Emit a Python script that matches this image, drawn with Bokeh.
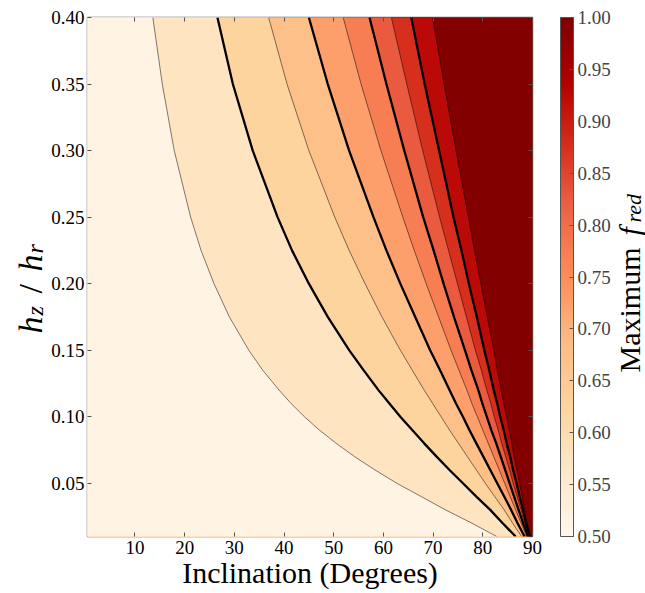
import numpy as np
from bokeh.plotting import figure
from bokeh.layouts import row
from bokeh.models import (ColumnDataSource, LinearColorMapper, ColorBar, FixedTicker,
                          NumeralTickFormatter, LinearAxis, Range1d)
from bokeh.transform import linear_cmap
from bokeh.core.properties import value
from bokeh.embed import file_html
from bokeh.resources import INLINE

# ---------------- data ----------------
x_ticks = [10, 20, 30, 40, 50, 60, 70, 80, 90]
y_ticks = [0.05, 0.10, 0.15, 0.20, 0.25, 0.30, 0.35, 0.40]
cbar_ticks = [0.50, 0.55, 0.60, 0.65, 0.70, 0.75, 0.80, 0.85, 0.90, 0.95, 1.00]

# h_z/h_r rows at which the contour crossings were read
h_rows = [0.40, 0.35, 0.30, 0.25, 0.225, 0.20, 0.175, 0.15, 0.135, 0.12, 0.11,
          0.10, 0.09, 0.08, 0.07, 0.06, 0.05, 0.04, 0.03, 0.02, 0.01]
levels = [0.55, 0.60, 0.65, 0.70, 0.75, 0.80, 0.85, 0.90, 0.95]
thick = [False, True, False, True, False, True, False, True, False]

# inclination (degrees) of each contour level at the rows above
incl_055 = [13.6, 15.5, 17.9, 21.2, 23.3, 25.9, 29.0, 32.9, 35.7, 39.0, 41.4,
            44.1, 47.1, 50.5, 54.2, 58.3, 62.7, 67.6, 72.5, 77.8, 82.8]
incl_060 = [26.6, 29.7, 33.7, 38.7, 41.6, 45.0, 48.8, 53.1, 56.0, 59.0, 61.2,
            63.4, 65.8, 68.2, 70.7, 73.3, 76.0, 78.7, 81.5, 84.0, 86.6]
incl_065 = [36.9, 40.6, 45.0, 50.2, 53.1, 56.3, 59.7, 63.4, 65.8, 68.2, 69.9,
            71.6, 73.3, 75.1, 76.9, 78.7, 80.5, 82.4, 84.3, 86.0, 87.8]
incl_070 = [45.0, 48.8, 53.1, 58.0, 60.6, 63.4, 66.4, 69.4, 71.4, 73.3, 74.6,
            76.0, 77.3, 78.7, 80.1, 81.5, 82.9, 84.3, 85.7, 87.0, 88.4]
incl_075 = [51.9, 55.5, 59.5, 63.9, 66.2, 68.6, 71.1, 73.6, 75.2, 76.8, 77.8,
            78.9, 80.0, 81.1, 82.2, 83.3, 84.4, 85.5, 86.6, 87.7, 88.8]
incl_080 = [57.2, 60.6, 64.2, 68.0, 70.1, 72.1, 74.2, 76.4, 77.7, 79.1, 79.9,
            80.8, 81.7, 82.7, 83.6, 84.5, 85.4, 86.3, 87.2, 88.1, 89.1]
incl_085 = [61.6, 64.7, 67.9, 71.3, 73.1, 74.9, 76.7, 78.5, 79.7, 80.8, 81.6,
            82.3, 83.1, 83.8, 84.6, 85.4, 86.1, 86.9, 87.7, 88.4, 89.3]
incl_090 = [65.6, 68.3, 71.2, 74.1, 75.7, 77.2, 78.8, 80.3, 81.3, 82.2, 82.9,
            83.5, 84.2, 84.8, 85.5, 86.1, 86.8, 87.4, 88.1, 88.7, 89.5]
incl_095 = [69.9, 72.2, 74.6, 77.1, 78.3, 79.6, 80.9, 82.2, 82.9, 83.7, 84.2,
            84.8, 85.3, 85.8, 86.3, 86.9, 87.4, 87.9, 88.4, 88.9, 89.7]
contours = [incl_055, incl_060, incl_065, incl_070, incl_075, incl_080, incl_085, incl_090, incl_095]

# representative f_red value of each band (below each level), and of the saturated region
band_values = [0.515, 0.575, 0.625, 0.675, 0.725, 0.775, 0.825, 0.875, 0.925]
saturated_value = 0.995

X_LO, X_HI = 0.45, 90.0
H_LO, H_HI = 0.01, 0.40

# ---------------- colour map (ColorBrewer OrRd, as matplotlib) ----------------
orrd = ['#fff7ec', '#fee8c8', '#fdd49e', '#fdbb84', '#fc8d59',
        '#ef6548', '#d7301f', '#b30000', '#7f0000']


def interp_pal(colors, n):
    rgb = np.array([[int(c[i:i + 2], 16) for i in (1, 3, 5)] for c in colors], float)
    pos = np.linspace(0, 1, len(colors))
    out = []
    for t in np.linspace(0, 1, n):
        r = [np.interp(t, pos, rgb[:, k]) for k in range(3)]
        out.append('#%02x%02x%02x' % tuple(int(round(v)) for v in r))
    return out


pal = interp_pal(orrd, 256)
mapper = LinearColorMapper(palette=pal, low=0.5, high=1.0)

# ---------------- band polygons ----------------
pad_lo, pad_hi = X_LO - 5, X_HI + 5
top, bot = H_HI + 0.05, H_LO - 0.05
xs = [[pad_lo, pad_hi, pad_hi, pad_lo]]
ys = [[top, top, bot, bot]]
vals = [saturated_value]
for inc, bv in reversed(list(zip(contours, band_values))):
    xs.append([pad_lo, inc[0]] + inc + [inc[-1], pad_lo])
    ys.append([top, top] + h_rows + [bot, bot])
    vals.append(bv)
bands = ColumnDataSource(dict(xs=xs, ys=ys, val=vals))

FONT = "Liberation Serif"
H = 593
B_TOP, B_BOT = 17, 57          # frame top / bottom borders shared by all panels
LEFT_W = 48                     # width of the y-title panel

# ---------------- main figure ----------------
p = figure(width=543 - LEFT_W, height=H, x_range=Range1d(X_LO, X_HI), y_range=Range1d(H_LO, H_HI),
           output_backend="svg", toolbar_location=None,
           min_border_left=85 - LEFT_W, min_border_right=11,
           min_border_top=B_TOP, min_border_bottom=B_BOT)
p.grid.visible = False
p.outline_line_color = "#666666"
p.outline_line_width = 1.5

p.patches('xs', 'ys', source=bands, fill_color=linear_cmap('val', pal, 0.5, 1.0), line_color=None)

for inc, th in zip(contours, thick):
    if th:
        p.line(inc, h_rows, line_color="black", line_width=2.3)
    else:
        p.line(inc, h_rows, line_color="black", line_width=1.0, line_alpha=0.5)


def style_axis(ax, ticks):
    ax.ticker = FixedTicker(ticks=ticks)
    ax.axis_line_color = None
    ax.major_tick_line_color = "#555555"
    ax.major_tick_in = 4
    ax.major_tick_out = 0
    ax.minor_tick_line_color = None
    ax.major_label_text_font = FONT
    ax.major_label_text_font_size = "19px"
    ax.major_label_text_color = "black"


style_axis(p.xaxis[0], x_ticks)
p.xaxis[0].major_label_standoff = 4
p.xaxis[0].axis_label = "Inclination (Degrees)"
p.xaxis[0].axis_label_text_font = FONT
p.xaxis[0].axis_label_text_font_size = "30px"
p.xaxis[0].axis_label_text_font_style = "normal"
p.xaxis[0].axis_label_text_color = "black"
p.xaxis[0].axis_label_standoff = -1

style_axis(p.yaxis[0], y_ticks)
p.yaxis[0].formatter = NumeralTickFormatter(format="0.00")
p.yaxis[0].major_label_standoff = 3

for side, ticks in (("above", x_ticks), ("right", y_ticks)):
    ax = LinearAxis()
    style_axis(ax, ticks)
    ax.major_label_overrides = {t: "" for t in ticks}
    ax.major_label_text_color = None
    ax.major_label_standoff = 0
    p.add_layout(ax, side)


def text_panel(width, x0, x1, border_left=0):
    # a plain panel whose frame coordinates equal page pixels
    f = figure(width=width, height=H, x_range=Range1d(x0, x1), y_range=Range1d(H - B_BOT, B_TOP),
               output_backend="svg", toolbar_location=None,
               min_border_left=border_left, min_border_right=0,
               min_border_top=B_TOP, min_border_bottom=B_BOT,
               x_axis_location=None, y_axis_location=None)
    f.grid.visible = False
    f.outline_line_color = None
    return f


def put(f, pieces):
    for t, x, y, fs, st in pieces:
        f.text(x=[x], y=[y], text=[t], angle=np.pi / 2, text_font=value(FONT),
               text_font_size=fs, text_font_style=st, text_align="left",
               text_baseline="alphabetic", text_color="black")


# y-axis title  h_z / h_r
fy = text_panel(LEFT_W, 0, LEFT_W)
put(fy, [("h", 30, 333, "34px", "italic"), ("z", 34.5, 315, "24px", "italic"),
         ("/", 30, 293, "34px", "normal"), ("h", 30, 271, "34px", "italic"),
         ("r", 34.5, 253, "24px", "italic")])

# colour bar + its title  Maximum f_red
fc = text_panel(645 - 543, 560, 645, border_left=17)
cb = ColorBar(color_mapper=mapper, ticker=FixedTicker(ticks=cbar_ticks),
              formatter=NumeralTickFormatter(format="0.00"),
              location="top_left", width=13, height=519, padding=0, margin=0,
              bar_line_color="#555555", bar_line_width=1,
              major_tick_line_color="#555555", major_tick_in=4, major_tick_out=0,
              minor_tick_line_color=None,
              major_label_text_font=FONT, major_label_text_font_size="19px",
              label_standoff=4, background_fill_color=None, border_line_color=None)
fc.add_layout(cb)
put(fc, [("Maximum", 629, 372, "30px", "normal"), ("f", 629, 235, "30px", "italic"),
         ("red", 633, 222, "22px", "italic")])

layout = row(fy, p, fc)
open("out.html", "w").write(file_html(layout, INLINE))
